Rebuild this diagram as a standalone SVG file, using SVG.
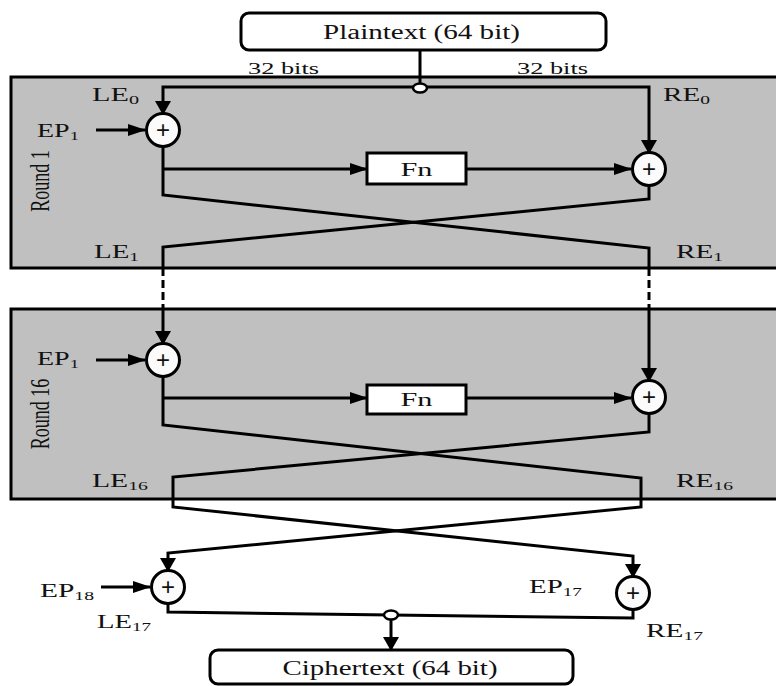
<svg xmlns="http://www.w3.org/2000/svg" width="776" height="686" viewBox="0 0 776 686">
<style>
.round{fill:#c0c0c0;stroke:#000;stroke-width:3}
.box{fill:#fff;stroke:#000;stroke-width:3}
.xor{fill:#fbfbfb;stroke:#000;stroke-width:3}
.jn{fill:#fff;stroke:#000;stroke-width:2.5}
.ln{fill:none;stroke:#000;stroke-width:3;stroke-linejoin:miter}
.dash{fill:none;stroke:#000;stroke-width:3;stroke-dasharray:8,4}
text{font-family:"Liberation Serif","Times New Roman",serif;fill:#111}
.lbl{font-size:18px}
.sub{font-size:12px}
.big{font-size:20px}
.plus{font-family:"Liberation Sans",Arial,sans-serif;font-size:24px;text-anchor:middle}
</style>
<defs>
<marker id="ah" markerUnits="userSpaceOnUse" markerWidth="18" markerHeight="12" refX="17" refY="6" orient="auto"><path d="M0,0 L18,6 L0,12 z" fill="#000"/></marker>
<marker id="av" markerUnits="userSpaceOnUse" markerWidth="14" markerHeight="16" refX="13" refY="8" orient="auto"><path d="M0,0 L14,8 L0,16 z" fill="#000"/></marker>
</defs>
<rect width="776" height="686" fill="#fff"/>

<g id="round1">
<rect class="round" x="11" y="77" width="780" height="191"/>
<text class="lbl" transform="translate(49,181) scale(1.5,1) rotate(-90)" text-anchor="middle">Round 1</text>
</g>
<g id="round16">
<rect class="round" x="11" y="309" width="780" height="190"/>
<text class="lbl" transform="translate(49,414) scale(1.5,1) rotate(-90)" text-anchor="middle">Round 16</text>
</g>

<g id="connectors">
<path class="ln" d="M420,50 V84"/>
<path class="ln" d="M420,87 H163 V114" marker-end="url(#av)"/>
<path class="ln" d="M420,87 H649 V153" marker-end="url(#av)"/>
<path class="ln" d="M96,130 H145" marker-end="url(#ah)"/>
<path class="ln" d="M163,169 H367" marker-end="url(#ah)"/>
<path class="ln" d="M466,169 H631" marker-end="url(#ah)"/>
<path class="ln" d="M163,146 V195 L649,248 V268"/>
<path class="ln" d="M649,185 V199 L163,247 V268"/>
<path class="dash" d="M163,268 V304"/>
<path class="dash" d="M649,268 V304"/>
<path class="ln" d="M163,304 V344" marker-end="url(#av)"/>
<path class="ln" d="M649,304 V381" marker-end="url(#av)"/>
<path class="ln" d="M96,360 H145" marker-end="url(#ah)"/>
<path class="ln" d="M163,398 H367" marker-end="url(#ah)"/>
<path class="ln" d="M466,398 H631" marker-end="url(#ah)"/>
<path class="ln" d="M163,376 V425 L641,478 V507 L168,553 V571" marker-end="url(#av)"/>
<path class="ln" d="M649,413 V432 L173,477 V507 L633,556 V577" marker-end="url(#av)"/>
<path class="ln" d="M101,587 H150" marker-end="url(#ah)"/>
<path class="ln" d="M168,603 V612 L391,615 L633,618 V609"/>
<path class="ln" d="M391,619 V650" marker-end="url(#av)"/>
</g>

<g id="plaintext">
<rect class="box" x="241" y="13" width="365" height="37" rx="8"/>
<text class="big" x="421.5" y="39" text-anchor="middle" textLength="197" lengthAdjust="spacingAndGlyphs">Plaintext (64 bit)</text>
</g>
<g id="split-top">
<ellipse class="jn" cx="420" cy="88" rx="7" ry="4.5"/>
<text style="font-size:16px" x="248" y="74" textLength="71" lengthAdjust="spacingAndGlyphs">32 bits</text>
<text style="font-size:16px" x="517" y="74" textLength="71" lengthAdjust="spacingAndGlyphs">32 bits</text>
</g>

<g id="labels-r1">
<text class="lbl" x="92" y="101" textLength="47" lengthAdjust="spacingAndGlyphs">LE<tspan class="sub" dy="3">0</tspan></text>
<text class="lbl" x="663" y="101" textLength="47" lengthAdjust="spacingAndGlyphs">RE<tspan class="sub" dy="3">0</tspan></text>
<text class="lbl" x="37" y="137" textLength="42" lengthAdjust="spacingAndGlyphs">EP<tspan class="sub" dy="3">1</tspan></text>
<text class="lbl" x="94" y="258" textLength="45" lengthAdjust="spacingAndGlyphs">LE<tspan class="sub" dy="3">1</tspan></text>
<text class="lbl" x="676" y="258" textLength="47" lengthAdjust="spacingAndGlyphs">RE<tspan class="sub" dy="3">1</tspan></text>
</g>

<g id="xor-l1">
<circle class="xor" cx="163" cy="130" r="16.5"/>
<text class="plus" x="163" y="138">+</text>
</g>
<g id="fn1">
<rect class="box" x="367" y="153" width="99" height="31"/>
<text style="font-size:18px" x="416.5" y="176" text-anchor="middle" textLength="32" lengthAdjust="spacingAndGlyphs">Fn</text>
</g>
<g id="xor-r1">
<circle class="xor" cx="649" cy="169" r="16.5"/>
<text class="plus" x="649" y="177">+</text>
</g>

<g id="labels-r16">
<text class="lbl" x="37" y="365" textLength="42" lengthAdjust="spacingAndGlyphs">EP<tspan class="sub" dy="3">1</tspan></text>
<text class="lbl" x="92" y="487" textLength="56" lengthAdjust="spacingAndGlyphs">LE<tspan class="sub" dy="3">16</tspan></text>
<text class="lbl" x="676" y="487" textLength="57" lengthAdjust="spacingAndGlyphs">RE<tspan class="sub" dy="3">16</tspan></text>
</g>
<g id="xor-l16">
<circle class="xor" cx="163" cy="360" r="16.5"/>
<text class="plus" x="163" y="368">+</text>
</g>
<g id="fn16">
<rect class="box" x="367" y="385" width="99" height="29"/>
<text style="font-size:18px" x="416.5" y="406" text-anchor="middle" textLength="32" lengthAdjust="spacingAndGlyphs">Fn</text>
</g>
<g id="xor-r16">
<circle class="xor" cx="649" cy="397" r="16.5"/>
<text class="plus" x="649" y="405">+</text>
</g>

<g id="xor-l17">
<circle class="xor" cx="168" cy="587" r="16.5"/>
<text class="plus" x="168" y="595">+</text>
</g>
<g id="xor-r17">
<circle class="xor" cx="633" cy="593" r="16.5"/>
<text class="plus" x="633" y="601">+</text>
</g>
<g id="labels-out">
<text class="lbl" x="40" y="597" textLength="54" lengthAdjust="spacingAndGlyphs">EP<tspan class="sub" dy="3">18</tspan></text>
<text class="lbl" x="529" y="593" textLength="53" lengthAdjust="spacingAndGlyphs">EP<tspan class="sub" dy="3">17</tspan></text>
<text class="lbl" x="97" y="628" textLength="54" lengthAdjust="spacingAndGlyphs">LE<tspan class="sub" dy="3">17</tspan></text>
<text class="lbl" x="646" y="637" textLength="57" lengthAdjust="spacingAndGlyphs">RE<tspan class="sub" dy="3">17</tspan></text>
</g>
<g id="merge">
<ellipse class="jn" cx="391" cy="615" rx="7" ry="4.5"/>
</g>
<g id="ciphertext">
<rect class="box" x="210" y="650" width="363" height="34" rx="8"/>
<text class="big" x="390" y="675" text-anchor="middle" textLength="215" lengthAdjust="spacingAndGlyphs">Ciphertext (64 bit)</text>
</g>
</svg>
